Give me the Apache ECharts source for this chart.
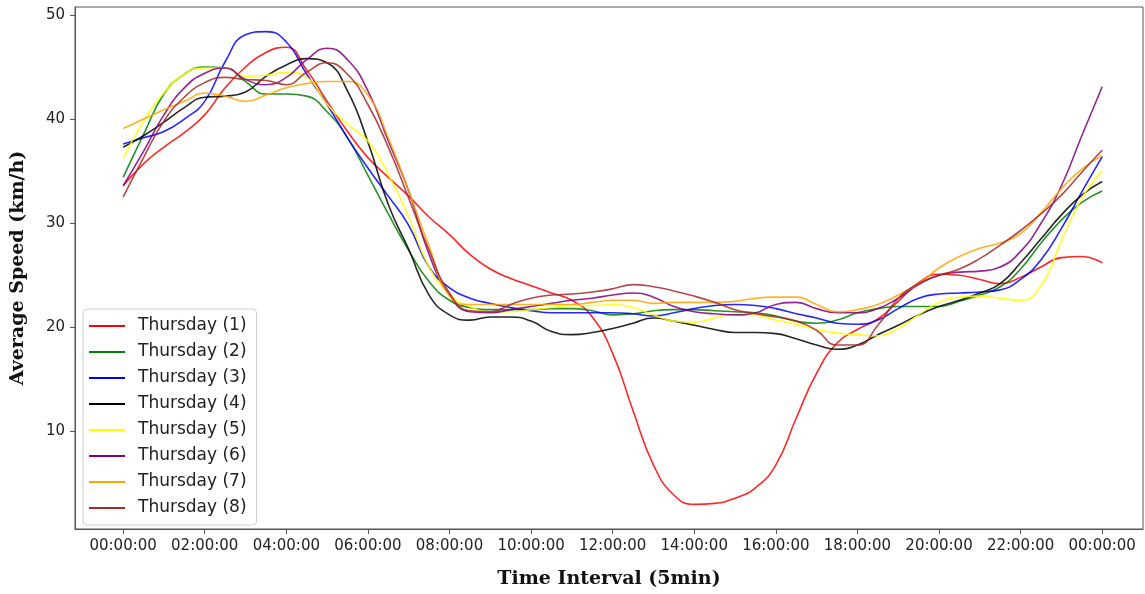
<!DOCTYPE html>
<html>
<head>
<meta charset="utf-8">
<script src="https://cdn.jsdelivr.net/npm/echarts@6/dist/echarts.min.js"></script>
<style>
  html, body { margin: 0; padding: 0; background: #fff; }
  #chart { width: 1145px; height: 594px; }
</style>
</head>
<body>
<div id="chart"></div>
<script>
// Sample times in hours since midnight (every 30 minutes)
const hours = [0, 0.5, 1, 1.5, 2, 2.5, 3, 3.5, 4, 4.5, 5, 5.5, 6, 6.5, 7, 7.5, 8, 8.5, 9, 9.5,
  10, 10.5, 11, 11.5, 12, 12.5, 13, 13.5, 14, 14.5, 15, 15.5, 16, 16.5, 17, 17.5, 18, 18.5, 19, 19.5,
  20, 20.5, 21, 21.5, 22, 22.5, 23, 23.5, 24];

// Tick positions (hours) on the time axis
const timeTicks = [0, 2, 4, 6, 8, 10, 12, 14, 16, 18, 20, 22, 24];
const speedTicks = [10, 20, 30, 40, 50];

const seriesNames = ['Thursday (1)', 'Thursday (2)', 'Thursday (3)', 'Thursday (4)',
  'Thursday (5)', 'Thursday (6)', 'Thursday (7)', 'Thursday (8)'];

// Average speed (km/h) per series
const thu1 = [33.6, 35.7, 37.3, 38.7, 40.4, 43.0, 45.0, 46.4, 46.9, 44.7, 41.7, 38.8, 36.3, 34.4, 32.6, 30.6,
  28.9, 27.0, 25.6, 24.7, 24.0, 23.3, 22.6, 21.0, 17.5, 12.0, 6.8, 3.9, 3.0, 3.1, 3.6, 4.6, 6.8, 11.3, 15.6,
  18.5, 19.8, 20.8, 22.5, 24.3, 25.1, 25.0, 24.6, 24.2, 24.8, 25.8, 26.7, 26.8, 26.2];
const thu2 = [34.4, 38.5, 42.4, 44.3, 45.0, 44.9, 43.6, 42.4, 42.4, 42.2, 40.7, 38.2, 34.6, 30.9, 27.4, 24.4,
  22.6, 21.9, 21.7, 21.7, 21.7, 21.8, 21.8, 21.6, 21.2, 21.3, 21.6, 21.7, 21.7, 21.6, 21.5, 21.4, 21.1, 20.6,
  20.4, 20.7, 21.4, 21.8, 22.0, 22.0, 22.0, 22.5, 23.1, 23.9, 25.6, 28.1, 30.3, 32.0, 33.1];
const thu3 = [37.6, 38.2, 38.8, 40.0, 41.7, 45.5, 48.1, 48.4, 47.4, 44.3, 41.4, 38.2, 35.3, 32.6, 29.8, 25.8,
  23.8, 22.8, 22.3, 21.9, 21.6, 21.4, 21.4, 21.4, 21.4, 21.3, 21.1, 21.4, 21.8, 22.1, 22.2, 22.1, 21.8, 21.3,
  20.9, 20.4, 20.3, 20.7, 21.8, 22.8, 23.2, 23.3, 23.4, 23.6, 24.6, 26.5, 29.5, 33.0, 36.4];
const thu4 = [37.3, 38.4, 39.7, 41.1, 42.1, 42.2, 42.6, 44.1, 45.2, 45.8, 45.4, 42.7, 37.8, 31.8, 27.5, 23.1,
  21.2, 20.7, 21.0, 21.0, 20.6, 19.6, 19.3, 19.5, 19.9, 20.4, 20.9, 20.6, 20.2, 19.8, 19.5, 19.5, 19.4, 18.9,
  18.3, 17.9, 18.3, 19.3, 20.2, 21.2, 22.0, 22.6, 23.3, 24.2, 26.2, 28.5, 30.8, 32.7, 34.0];
const thu5 = [36.2, 39.8, 42.5, 44.3, 44.9, 44.9, 44.1, 44.2, 44.5, 44.0, 41.4, 39.5, 37.9, 34.7, 30.6, 25.8,
  23.2, 22.0, 21.5, 21.5, 21.7, 21.9, 22.1, 22.1, 22.2, 21.9, 21.2, 20.6, 20.5, 20.9, 21.3, 21.2, 20.7, 20.3,
  19.8, 19.45, 19.3, 19.2, 19.9, 21.2, 22.4, 22.9, 23.0, 22.8, 22.6, 24.0, 28.3, 32.4, 35.0];
const thu6 = [33.6, 36.9, 40.4, 43.0, 44.4, 44.9, 43.8, 43.3, 44.0, 45.7, 46.8, 45.7, 42.7, 37.9, 33.1, 27.0,
  23.1, 21.5, 21.4, 21.7, 22.0, 22.3, 22.6, 22.8, 23.1, 23.3, 22.9, 22.0, 21.5, 21.3, 21.2, 21.4, 22.2, 22.4,
  21.8, 21.4, 21.4, 21.8, 22.8, 24.1, 25.0, 25.3, 25.4, 25.8, 27.3, 30.0, 33.6, 38.4, 43.1];
const thu7 = [39.1, 40.0, 40.9, 41.7, 42.5, 42.2, 41.7, 42.3, 43.0, 43.4, 43.6, 43.6, 42.3, 38.2, 33.1, 27.8,
  23.0, 22.2, 22.2, 22.2, 22.2, 22.2, 22.2, 22.4, 22.6, 22.6, 22.3, 22.4, 22.4, 22.4, 22.5, 22.8, 22.9, 22.9,
  22.2, 21.5, 21.7, 22.2, 23.1, 24.2, 25.7, 26.8, 27.6, 28.1, 29.0, 31.0, 33.3, 35.2, 36.5];
const thu8 = [32.5, 36.3, 39.8, 42.1, 43.5, 44.0, 43.8, 43.7, 43.3, 44.5, 45.4, 44.3, 41.4, 37.3, 32.4, 27.4,
  23.3, 21.6, 21.5, 22.2, 22.8, 23.1, 23.2, 23.4, 23.7, 24.1, 23.9, 23.5, 23.0, 22.4, 21.7, 21.3, 21.0, 20.6,
  19.7, 18.3, 18.3, 20.2, 22.8, 24.2, 25.0, 25.6, 26.6, 27.9, 29.3, 30.9, 32.7, 34.9, 37.0];

const seriesValues = [thu1, thu2, thu3, thu4, thu5, thu6, thu7, thu8];
const seriesColors = ['#ff0000', '#008000', '#0000ff', '#000000', '#ffff00', '#800080', '#ffa500', '#a52a2a'];

function pad2(n) { return (n < 10 ? '0' : '') + n; }
function clockLabel(h) { return pad2(Math.round(h) % 24) + ':00:00'; }

const chart = echarts.init(document.getElementById('chart'), null, { renderer: 'canvas' });

const tickFont = { fontFamily: 'DejaVu Sans', fontSize: 15, color: '#222' };
const titleFont = { fontFamily: 'DejaVu Serif', fontWeight: 'bold', fontSize: 19, color: '#111' };

chart.setOption({
  animation: false,
  backgroundColor: '#ffffff',
  grid: {
    left: 75, right: 2, top: 7, bottom: 61,
    show: true, borderColor: '#555', borderWidth: 1, backgroundColor: 'transparent'
  },
  legend: {
    orient: 'vertical',
    left: 83, top: 309,
    padding: [8, 10, 8, 6],
    itemGap: 8,
    itemWidth: 36, itemHeight: 2,
    icon: 'rect',
    backgroundColor: 'rgba(255,255,255,0.85)',
    borderColor: '#d0d0d0', borderWidth: 1, borderRadius: 4,
    textStyle: { fontFamily: 'DejaVu Sans', fontSize: 17, color: '#222', lineHeight: 18, padding: [0, 0, 0, 8] },
    data: seriesNames
  },
  xAxis: {
    type: 'value',
    min: -1.18, max: 25.0,
    name: 'Time Interval (5min)',
    nameLocation: 'middle',
    nameGap: 41,
    nameTextStyle: titleFont,
    splitLine: { show: false },
    axisLine: { show: true, onZero: false, lineStyle: { color: '#555', width: 1 } },
    axisTick: { show: true, inside: false, length: 5, lineStyle: { color: '#555' }, customValues: timeTicks },
    axisLabel: { ...tickFont, margin: 10, customValues: timeTicks, formatter: v => clockLabel(v) }
  },
  yAxis: {
    type: 'value',
    min: 0.64, max: 50.76,
    name: 'Average Speed (km/h)',
    nameLocation: 'middle',
    nameGap: 47,
    nameTextStyle: titleFont,
    splitLine: { show: false },
    axisLine: { show: true, onZero: false, lineStyle: { color: '#555', width: 1 } },
    axisTick: { show: true, inside: false, length: 5, lineStyle: { color: '#555' }, customValues: speedTicks },
    axisLabel: { ...tickFont, margin: 10, customValues: speedTicks }
  },
  series: seriesNames.map((name, i) => ({
    name: name,
    type: 'line',
    smooth: 0.5,
    symbol: 'none',
    color: seriesColors[i],
    lineStyle: { width: 1.6, opacity: 0.85 },
    data: hours.map((h, j) => [h, seriesValues[i][j]])
  }))
});
</script>
</body>
</html>
